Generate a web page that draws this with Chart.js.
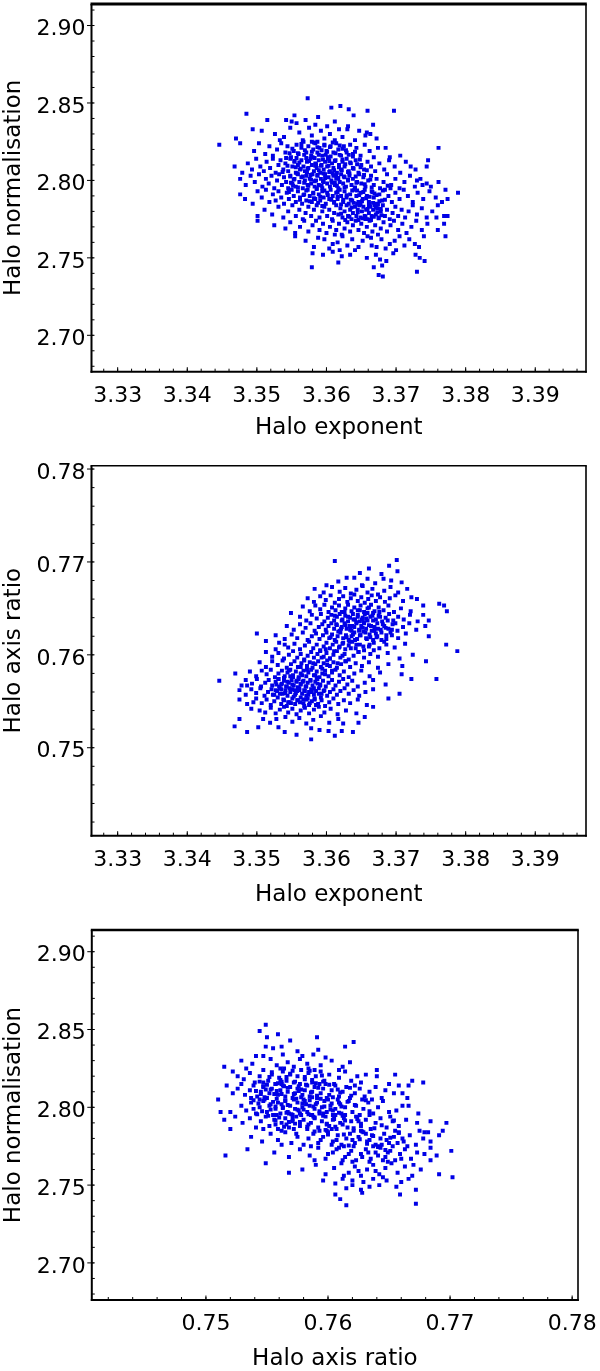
<!DOCTYPE html>
<html>
<head>
<meta charset="utf-8">
<script src="https://cdn.jsdelivr.net/npm/chart.js@4"></script>
<style>
  html, body { margin: 0; padding: 0; background: #fff; }
  body { width: 600px; height: 1371px; position: relative; overflow: hidden; }
  canvas { position: absolute; left: 0; }
</style>
</head>
<body>
<canvas id="c1" width="600" height="460" style="top:0px"></canvas>
<canvas id="c2" width="600" height="465" style="top:460px"></canvas>
<canvas id="c3" width="600" height="446" style="top:925px"></canvas>
<script>
/* tick labels */
const exponentTicks = [3.33, 3.34, 3.35, 3.36, 3.37, 3.38, 3.39];
const normTicks = [2.70, 2.75, 2.80, 2.85, 2.90];
const ratioTicks = [0.75, 0.76, 0.77, 0.78];

/* axis titles */
const exponentTitle = 'Halo exponent';
const normTitle = 'Halo normalisation';
const ratioTitle = 'Halo axis ratio';

/* panel 1: halo exponent vs halo normalisation */
const expNormPoints = [
[3.3573,2.853],[3.3607,2.847],[3.3620,2.848],[3.3659,2.845],[3.3697,2.845],[3.3632,2.846],
[3.3485,2.843],[3.3554,2.842],[3.3515,2.839],[3.3542,2.839],[3.3550,2.838],[3.3557,2.837],[3.3570,2.839],[3.3601,2.835],[3.3631,2.835],[3.3639,2.842],[3.3588,2.841],[3.3612,2.838],[3.3667,2.836],[3.3584,2.836],
[3.3494,2.833],[3.3507,2.832],[3.3470,2.827],[3.3658,2.831],[3.3663,2.830],[3.3656,2.829],[3.3618,2.833],[3.3630,2.833],[3.3526,2.830],[3.3539,2.828],[3.3548,2.834],[3.3561,2.831],[3.3566,2.826],[3.3579,2.829],[3.3592,2.832],[3.3597,2.827],[3.3605,2.830],[3.3623,2.828],[3.3641,2.826],[3.3647,2.832],[3.3533,2.826],[3.3575,2.834],[3.3587,2.825],[3.3612,2.826],[3.3672,2.827],
[3.3446,2.823],[3.3476,2.824],[3.3761,2.821],[3.3496,2.819],[3.3503,2.824],[3.3512,2.817],[3.3518,2.822],[3.3523,2.816],[3.3529,2.820],[3.3535,2.824],[3.3541,2.818],[3.3544,2.822],[3.3549,2.815],[3.3553,2.819],[3.3557,2.823],[3.3560,2.817],[3.3564,2.821],[3.3567,2.825],[3.3571,2.818],[3.3574,2.822],[3.3578,2.816],[3.3581,2.820],[3.3584,2.824],[3.3587,2.818],[3.3590,2.821],[3.3594,2.816],[3.3597,2.823],[3.3600,2.819],[3.3603,2.815],[3.3606,2.822],[3.3610,2.818],[3.3614,2.824],[3.3617,2.820],[3.3621,2.816],[3.3625,2.822],[3.3629,2.818],[3.3634,2.823],[3.3638,2.817],[3.3643,2.821],[3.3649,2.816],[3.3655,2.823],[3.3662,2.819],[3.3668,2.815],[3.3674,2.821],[3.3685,2.821],[3.3691,2.815],[3.3706,2.816],[3.3579,2.825],
[3.3468,2.809],[3.3479,2.805],[3.3746,2.813],[3.3744,2.809],[3.3721,2.809],[3.3487,2.811],[3.3493,2.807],[3.3499,2.814],[3.3505,2.809],[3.3510,2.806],[3.3514,2.812],[3.3519,2.808],[3.3523,2.814],[3.3527,2.805],[3.3531,2.810],[3.3534,2.813],[3.3538,2.807],[3.3541,2.811],[3.3545,2.806],[3.3548,2.814],[3.3551,2.809],[3.3554,2.812],[3.3556,2.805],[3.3559,2.810],[3.3562,2.807],[3.3564,2.813],[3.3567,2.809],[3.3569,2.806],[3.3572,2.812],[3.3574,2.808],[3.3577,2.814],[3.3579,2.810],[3.3582,2.806],[3.3584,2.811],[3.3586,2.808],[3.3589,2.813],[3.3591,2.805],[3.3593,2.810],[3.3596,2.807],[3.3598,2.812],[3.3601,2.809],[3.3603,2.814],[3.3605,2.806],[3.3608,2.811],[3.3610,2.808],[3.3613,2.813],[3.3615,2.805],[3.3618,2.810],[3.3621,2.807],[3.3623,2.812],[3.3626,2.809],[3.3629,2.814],[3.3632,2.806],[3.3635,2.811],[3.3638,2.808],[3.3642,2.813],[3.3646,2.805],[3.3650,2.810],[3.3654,2.807],[3.3659,2.812],[3.3664,2.809],[3.3670,2.806],[3.3676,2.811],[3.3683,2.807],[3.3690,2.813],[3.3698,2.809],[3.3706,2.805],[3.3714,2.812],[3.3728,2.807],[3.3580,2.815],
[3.3476,2.801],[3.3730,2.800],[3.3738,2.797],[3.3750,2.796],[3.3484,2.797],[3.3491,2.803],[3.3497,2.799],[3.3503,2.804],[3.3508,2.796],[3.3513,2.801],[3.3517,2.798],[3.3521,2.803],[3.3525,2.795],[3.3529,2.800],[3.3532,2.804],[3.3536,2.797],[3.3539,2.802],[3.3542,2.799],[3.3545,2.795],[3.3548,2.803],[3.3551,2.798],[3.3554,2.801],[3.3556,2.796],[3.3559,2.804],[3.3561,2.799],[3.3564,2.802],[3.3566,2.795],[3.3569,2.800],[3.3571,2.803],[3.3573,2.797],[3.3576,2.801],[3.3578,2.798],[3.3580,2.804],[3.3583,2.796],[3.3585,2.800],[3.3587,2.803],[3.3589,2.797],[3.3592,2.801],[3.3594,2.795],[3.3596,2.799],[3.3598,2.804],[3.3601,2.798],[3.3603,2.802],[3.3605,2.796],[3.3607,2.800],[3.3610,2.803],[3.3612,2.797],[3.3614,2.801],[3.3617,2.795],[3.3619,2.799],[3.3621,2.804],[3.3624,2.798],[3.3626,2.802],[3.3628,2.796],[3.3631,2.800],[3.3633,2.803],[3.3636,2.797],[3.3638,2.801],[3.3641,2.795],[3.3644,2.799],[3.3647,2.804],[3.3650,2.798],[3.3653,2.802],[3.3656,2.796],[3.3660,2.800],[3.3664,2.803],[3.3668,2.797],[3.3672,2.801],[3.3677,2.795],[3.3682,2.799],[3.3687,2.804],[3.3693,2.797],[3.3699,2.801],[3.3705,2.795],[3.3712,2.799],[3.3720,2.803],[3.3727,2.796],[3.3735,2.801],[3.3744,2.798],[3.3761,2.799],
[3.3483,2.788],[3.3476,2.791],[3.3494,2.785],[3.3789,2.792],[3.3771,2.794],[3.3774,2.788],[3.3501,2.793],[3.3507,2.789],[3.3513,2.794],[3.3518,2.786],[3.3523,2.791],[3.3527,2.787],[3.3531,2.793],[3.3535,2.789],[3.3539,2.785],[3.3543,2.792],[3.3546,2.788],[3.3550,2.794],[3.3553,2.790],[3.3556,2.786],[3.3559,2.793],[3.3562,2.789],[3.3565,2.785],[3.3568,2.791],[3.3571,2.787],[3.3573,2.794],[3.3576,2.790],[3.3579,2.786],[3.3581,2.792],[3.3584,2.788],[3.3586,2.795],[3.3589,2.791],[3.3591,2.787],[3.3594,2.793],[3.3596,2.789],[3.3599,2.785],[3.3601,2.792],[3.3604,2.788],[3.3606,2.794],[3.3609,2.790],[3.3611,2.786],[3.3614,2.792],[3.3616,2.788],[3.3619,2.794],[3.3621,2.790],[3.3624,2.786],[3.3626,2.793],[3.3629,2.789],[3.3632,2.785],[3.3634,2.791],[3.3637,2.787],[3.3640,2.794],[3.3643,2.790],[3.3646,2.786],[3.3649,2.792],[3.3652,2.788],[3.3655,2.794],[3.3658,2.790],[3.3661,2.786],[3.3665,2.793],[3.3668,2.789],[3.3672,2.785],[3.3676,2.791],[3.3680,2.787],[3.3684,2.794],[3.3689,2.790],[3.3694,2.786],[3.3699,2.792],[3.3705,2.788],[3.3711,2.794],[3.3717,2.790],[3.3724,2.786],[3.3731,2.792],[3.3739,2.788],[3.3748,2.793],[3.3757,2.789],[3.3766,2.786],[3.3692,2.795],
[3.3501,2.777],[3.3774,2.777],[3.3758,2.776],[3.3511,2.781],[3.3522,2.778],[3.3531,2.783],[3.3538,2.776],[3.3545,2.780],[3.3551,2.784],[3.3556,2.777],[3.3561,2.781],[3.3566,2.775],[3.3570,2.779],[3.3574,2.783],[3.3578,2.777],[3.3582,2.781],[3.3586,2.784],[3.3590,2.776],[3.3594,2.780],[3.3597,2.783],[3.3601,2.777],[3.3604,2.781],[3.3608,2.775],[3.3611,2.779],[3.3614,2.784],[3.3617,2.778],[3.3620,2.782],[3.3623,2.776],[3.3626,2.780],[3.3629,2.784],[3.3631,2.777],[3.3634,2.781],[3.3636,2.775],[3.3638,2.779],[3.3641,2.783],[3.3643,2.777],[3.3645,2.781],[3.3647,2.784],[3.3649,2.776],[3.3651,2.780],[3.3653,2.783],[3.3655,2.777],[3.3657,2.781],[3.3659,2.775],[3.3661,2.779],[3.3663,2.783],[3.3665,2.777],[3.3667,2.781],[3.3669,2.784],[3.3671,2.778],[3.3673,2.782],[3.3675,2.776],[3.3678,2.780],[3.3681,2.784],[3.3684,2.777],[3.3687,2.781],[3.3691,2.775],[3.3695,2.779],[3.3699,2.783],[3.3703,2.777],[3.3708,2.781],[3.3713,2.776],[3.3718,2.780],[3.3724,2.784],[3.3730,2.778],[3.3737,2.782],[3.3744,2.776],[3.3752,2.780],[3.3769,2.777],[3.3760,2.784],[3.3644,2.785],[3.3662,2.785],
[3.3501,2.774],[3.3541,2.769],[3.3555,2.766],[3.3771,2.764],[3.3769,2.772],[3.3525,2.771],[3.3548,2.773],[3.3562,2.770],[3.3568,2.774],[3.3574,2.767],[3.3580,2.771],[3.3585,2.774],[3.3590,2.768],[3.3595,2.772],[3.3600,2.766],[3.3605,2.770],[3.3609,2.774],[3.3614,2.768],[3.3618,2.772],[3.3622,2.765],[3.3626,2.769],[3.3630,2.773],[3.3634,2.767],[3.3638,2.771],[3.3642,2.774],[3.3646,2.768],[3.3650,2.772],[3.3654,2.766],[3.3658,2.770],[3.3662,2.774],[3.3666,2.767],[3.3670,2.771],[3.3674,2.765],[3.3678,2.769],[3.3682,2.773],[3.3687,2.767],[3.3692,2.771],[3.3697,2.774],[3.3703,2.768],[3.3709,2.772],[3.3715,2.766],[3.3722,2.770],[3.3729,2.774],[3.3737,2.768],[3.3745,2.772],[3.3740,2.764],[3.3727,2.759],[3.3760,2.768],[3.3612,2.765],[3.3656,2.775],
[3.3555,2.764],[3.3588,2.763],[3.3609,2.759],[3.3646,2.757],[3.3672,2.757],[3.3691,2.759],[3.3570,2.761],[3.3582,2.757],[3.3597,2.762],[3.3604,2.756],[3.3616,2.760],[3.3623,2.764],[3.3630,2.758],[3.3637,2.762],[3.3652,2.761],[3.3659,2.764],[3.3665,2.758],[3.3679,2.762],[3.3685,2.756],[3.3698,2.761],[3.3705,2.764],[3.3712,2.758],[3.3719,2.762],[3.3733,2.757],[3.3641,2.755],[3.3619,2.755],[3.3700,2.755],[3.3664,2.763],
[3.3617,2.747],[3.3595,2.752],[3.3580,2.753],[3.3634,2.752],[3.3741,2.748],[3.3728,2.752],[3.3734,2.750],[3.3658,2.750],[3.3677,2.749],[3.3686,2.748],[3.3696,2.753],[3.3671,2.752],[3.3622,2.751],[3.3609,2.754],
[3.3675,2.739],[3.3681,2.738],[3.3730,2.741],[3.3579,2.744],[3.3668,2.744],[3.3680,2.745]
];
/* panel 1: the crowded middle of the cloud */
const expNormCore = [
[3.3585,2.8105],[3.3612,2.7985],[3.3547,2.8175],[3.3633,2.8045],[3.3571,2.7935],[3.3659,2.7815],[3.3597,2.8225],[3.3624,2.7875],[3.3553,2.8005],[3.3668,2.7765],
[3.3589,2.8065],[3.3606,2.8155],[3.3641,2.7955],[3.3575,2.8125],[3.3662,2.7895],[3.3618,2.8085],[3.3537,2.8055],[3.3649,2.7845],[3.3593,2.7965],[3.3628,2.8195],
[3.3566,2.8025],[3.3681,2.7935],[3.3602,2.7905],[3.3557,2.8145],[3.3644,2.8105],[3.3673,2.7795],[3.3614,2.8035],[3.3579,2.8185],[3.3636,2.7825],[3.3598,2.8015],
[3.3562,2.7875],[3.3655,2.7975],[3.3609,2.8245],[3.3583,2.7995],[3.3621,2.7785],[3.3544,2.8095],[3.3667,2.7855],[3.3595,2.8135],[3.3631,2.8005],[3.3573,2.8075],
[3.3652,2.7755],[3.3616,2.7925],[3.3587,2.8215],[3.3639,2.8075],[3.3559,2.7955],[3.3676,2.7865],[3.3604,2.8055],[3.3568,2.8165],[3.3647,2.7905],[3.3623,2.8135],
[3.3581,2.7915],[3.3664,2.7745],[3.3608,2.7985],[3.3551,2.8205],[3.3635,2.7875],[3.3592,2.8095],[3.3671,2.7825],[3.3619,2.8165],[3.3577,2.8035],[3.3643,2.7985],
[3.3561,2.8115],[3.3657,2.7885],[3.3601,2.8185],[3.3626,2.7955],[3.3588,2.7855],[3.3612,2.8125],[3.3549,2.7985],[3.3679,2.7775],[3.3596,2.8045],[3.3638,2.8155],
[3.3574,2.7965],[3.3661,2.7835],[3.3617,2.8015],[3.3583,2.8145],[3.3645,2.7795],[3.3563,2.8075],[3.3629,2.7905],[3.3605,2.8215],[3.3654,2.8035],[3.3591,2.7895],
[3.3669,2.7915],[3.3554,2.8125],[3.3622,2.8065],[3.3586,2.7945],[3.3648,2.8135],[3.3569,2.8195],[3.3633,2.7765],[3.3611,2.7855],[3.3578,2.8005],[3.3665,2.7955],
[3.3599,2.8165],[3.3542,2.8145],[3.3627,2.8105],[3.3594,2.7835],[3.3674,2.7845],[3.3615,2.7965],[3.3558,2.8045],[3.3641,2.8185],[3.3582,2.8245],[3.3656,2.7765],
[3.3603,2.8095],[3.3567,2.7905],[3.3637,2.7935],[3.3589,2.8165],[3.3684,2.7875],[3.3613,2.8175],[3.3572,2.8055],[3.3651,2.7865],[3.3625,2.8025],[3.3546,2.7925],
[3.3663,2.8005],[3.3607,2.7875],[3.3584,2.8095],[3.3646,2.7745],[3.3619,2.8225],[3.3556,2.8085],[3.3634,2.8115],[3.3597,2.7935],[3.3672,2.7905],[3.3609,2.8045],
[3.3576,2.7865],[3.3658,2.8065],[3.3621,2.7845],[3.3564,2.8235],[3.3642,2.8025],[3.3593,2.8195],[3.3678,2.7815],[3.3616,2.7895],[3.3552,2.7965],[3.3632,2.8165],
[3.3587,2.8035],[3.3666,2.7925],[3.3604,2.8125],[3.3571,2.8145],[3.3649,2.8085],[3.3627,2.7745],[3.3595,2.7995],[3.3688,2.7965],[3.3611,2.8065],[3.3559,2.8175],
[3.3639,2.7855],[3.3582,2.7885],[3.3653,2.7925],[3.3623,2.8205],[3.3548,2.8025],[3.3675,2.7755],[3.3602,2.8145],[3.3631,2.8055],[3.3568,2.7985],[3.3644,2.7935]
];

/* panel 2: halo exponent vs halo axis ratio */
const expRatioPoints = [
[3.3612,0.7701],[3.3701,0.7702],[3.3690,0.7696],
[3.3661,0.7693],[3.3702,0.7690],[3.3648,0.7688],[3.3679,0.7687],
[3.3682,0.7682],[3.3640,0.7683],[3.3629,0.7683],[3.3659,0.7682],[3.3708,0.7678],[3.3600,0.7675],[3.3651,0.7675],[3.3617,0.7679],[3.3693,0.7680],[3.3670,0.7677],
[3.3583,0.7671],[3.3596,0.7667],[3.3608,0.7673],[3.3619,0.7668],[3.3627,0.7672],[3.3635,0.7666],[3.3643,0.7670],[3.3652,0.7674],[3.3659,0.7667],[3.3666,0.7671],[3.3674,0.7665],[3.3683,0.7669],[3.3692,0.7673],[3.3703,0.7667],[3.3716,0.7671],[3.3730,0.7660],
[3.3573,0.7661],[3.3582,0.7657],[3.3591,0.7663],[3.3599,0.7659],[3.3606,0.7664],[3.3612,0.7656],[3.3618,0.7660],[3.3624,0.7663],[3.3630,0.7657],[3.3635,0.7661],[3.3640,0.7665],[3.3645,0.7658],[3.3650,0.7662],[3.3655,0.7656],[3.3660,0.7660],[3.3665,0.7664],[3.3671,0.7658],[3.3677,0.7662],[3.3684,0.7657],[3.3691,0.7661],[3.3699,0.7664],[3.3710,0.7658],[3.3722,0.7662],[3.3739,0.7653],
[3.3549,0.7645],[3.3762,0.7655],[3.3769,0.7653],[3.3773,0.7647],[3.3566,0.7652],[3.3576,0.7647],[3.3584,0.7653],[3.3591,0.7649],[3.3597,0.7654],[3.3603,0.7646],[3.3608,0.7651],[3.3613,0.7648],[3.3618,0.7653],[3.3622,0.7646],[3.3627,0.7650],[3.3631,0.7654],[3.3636,0.7647],[3.3640,0.7651],[3.3645,0.7648],[3.3649,0.7653],[3.3654,0.7646],[3.3659,0.7650],[3.3664,0.7654],[3.3669,0.7647],[3.3675,0.7651],[3.3682,0.7648],[3.3689,0.7653],[3.3697,0.7646],[3.3707,0.7650],[3.3721,0.7647],
[3.3562,0.7641],[3.3571,0.7637],[3.3579,0.7643],[3.3586,0.7639],[3.3592,0.7644],[3.3597,0.7636],[3.3602,0.7640],[3.3607,0.7643],[3.3611,0.7637],[3.3615,0.7641],[3.3619,0.7644],[3.3623,0.7638],[3.3627,0.7642],[3.3631,0.7636],[3.3634,0.7640],[3.3638,0.7644],[3.3641,0.7638],[3.3645,0.7641],[3.3648,0.7636],[3.3652,0.7640],[3.3655,0.7644],[3.3659,0.7637],[3.3663,0.7641],[3.3667,0.7645],[3.3671,0.7638],[3.3675,0.7642],[3.3680,0.7636],[3.3685,0.7640],[3.3690,0.7644],[3.3696,0.7637],[3.3703,0.7641],[3.3711,0.7638],[3.3720,0.7643],[3.3731,0.7636],[3.3747,0.7637],[3.3739,0.7643],
[3.3543,0.7631],[3.3553,0.7627],[3.3562,0.7633],[3.3570,0.7629],[3.3577,0.7634],[3.3583,0.7626],[3.3589,0.7630],[3.3594,0.7633],[3.3599,0.7627],[3.3603,0.7631],[3.3607,0.7634],[3.3611,0.7628],[3.3615,0.7632],[3.3619,0.7626],[3.3622,0.7630],[3.3626,0.7634],[3.3629,0.7628],[3.3633,0.7631],[3.3636,0.7626],[3.3640,0.7630],[3.3643,0.7634],[3.3647,0.7627],[3.3650,0.7631],[3.3654,0.7635],[3.3657,0.7628],[3.3661,0.7632],[3.3665,0.7626],[3.3669,0.7630],[3.3673,0.7634],[3.3678,0.7627],[3.3683,0.7631],[3.3689,0.7628],[3.3695,0.7633],[3.3702,0.7626],[3.3710,0.7630],[3.3719,0.7634],[3.3729,0.7627],[3.3742,0.7631],
[3.3500,0.7623],[3.3513,0.7615],[3.3527,0.7621],[3.3540,0.7617],[3.3550,0.7622],[3.3558,0.7618],[3.3566,0.7624],[3.3573,0.7616],[3.3579,0.7620],[3.3585,0.7623],[3.3590,0.7617],[3.3595,0.7621],[3.3600,0.7624],[3.3604,0.7618],[3.3608,0.7622],[3.3612,0.7616],[3.3616,0.7620],[3.3620,0.7624],[3.3624,0.7618],[3.3628,0.7621],[3.3632,0.7616],[3.3636,0.7620],[3.3640,0.7624],[3.3644,0.7617],[3.3648,0.7621],[3.3653,0.7625],[3.3657,0.7618],[3.3662,0.7622],[3.3667,0.7616],[3.3673,0.7620],[3.3679,0.7624],[3.3686,0.7617],[3.3694,0.7621],[3.3703,0.7618],[3.3714,0.7623],[3.3747,0.7620],
[3.3540,0.7611],[3.3527,0.7606],[3.3772,0.7611],[3.3788,0.7604],[3.3532,0.7613],[3.3545,0.7608],[3.3554,0.7612],[3.3562,0.7606],[3.3569,0.7610],[3.3575,0.7614],[3.3581,0.7607],[3.3586,0.7611],[3.3591,0.7605],[3.3596,0.7609],[3.3600,0.7613],[3.3605,0.7607],[3.3609,0.7611],[3.3614,0.7614],[3.3618,0.7608],[3.3623,0.7612],[3.3627,0.7606],[3.3632,0.7610],[3.3637,0.7614],[3.3642,0.7607],[3.3648,0.7611],[3.3654,0.7605],[3.3661,0.7609],[3.3668,0.7613],[3.3676,0.7607],[3.3686,0.7611],[3.3698,0.7608],[3.3713,0.7612],
[3.3513,0.7603],[3.3522,0.7598],[3.3531,0.7602],[3.3539,0.7596],[3.3546,0.7600],[3.3552,0.7604],[3.3558,0.7597],[3.3563,0.7601],[3.3568,0.7595],[3.3573,0.7599],[3.3578,0.7603],[3.3582,0.7597],[3.3587,0.7601],[3.3591,0.7604],[3.3596,0.7598],[3.3600,0.7602],[3.3605,0.7596],[3.3610,0.7600],[3.3615,0.7604],[3.3620,0.7597],[3.3626,0.7601],[3.3632,0.7595],[3.3639,0.7599],[3.3646,0.7603],[3.3654,0.7597],[3.3663,0.7601],[3.3674,0.7598],[3.3688,0.7602],[3.3705,0.7596],[3.3724,0.7600],
[3.3743,0.7593],[3.3504,0.7592],[3.3513,0.7587],[3.3522,0.7593],[3.3530,0.7589],[3.3537,0.7594],[3.3543,0.7586],[3.3549,0.7590],[3.3554,0.7593],[3.3559,0.7587],[3.3564,0.7591],[3.3568,0.7594],[3.3572,0.7588],[3.3576,0.7592],[3.3580,0.7586],[3.3584,0.7590],[3.3588,0.7593],[3.3592,0.7587],[3.3596,0.7591],[3.3601,0.7594],[3.3605,0.7588],[3.3610,0.7592],[3.3615,0.7586],[3.3621,0.7590],[3.3627,0.7593],[3.3634,0.7587],[3.3642,0.7591],[3.3651,0.7588],[3.3661,0.7592],[3.3674,0.7586],[3.3689,0.7590],[3.3709,0.7588],
[3.3722,0.7574],[3.3758,0.7574],[3.3469,0.7580],[3.3490,0.7582],[3.3499,0.7577],[3.3507,0.7583],[3.3514,0.7579],[3.3520,0.7584],[3.3526,0.7576],[3.3531,0.7580],[3.3536,0.7583],[3.3540,0.7577],[3.3544,0.7581],[3.3548,0.7584],[3.3552,0.7578],[3.3556,0.7582],[3.3560,0.7576],[3.3563,0.7580],[3.3567,0.7583],[3.3571,0.7577],[3.3574,0.7581],[3.3578,0.7584],[3.3582,0.7578],[3.3586,0.7582],[3.3590,0.7576],[3.3594,0.7580],[3.3598,0.7583],[3.3603,0.7577],[3.3608,0.7581],[3.3613,0.7584],[3.3619,0.7578],[3.3625,0.7582],[3.3632,0.7576],[3.3640,0.7580],[3.3650,0.7583],[3.3662,0.7577],[3.3677,0.7581],[3.3708,0.7579],
[3.3446,0.7572],[3.3478,0.7567],[3.3486,0.7567],[3.3484,0.7573],[3.3493,0.7569],[3.3500,0.7574],[3.3506,0.7566],[3.3512,0.7570],[3.3517,0.7573],[3.3522,0.7567],[3.3527,0.7571],[3.3531,0.7574],[3.3535,0.7568],[3.3539,0.7572],[3.3543,0.7566],[3.3546,0.7570],[3.3550,0.7573],[3.3553,0.7567],[3.3557,0.7571],[3.3560,0.7574],[3.3563,0.7568],[3.3567,0.7572],[3.3570,0.7566],[3.3573,0.7570],[3.3577,0.7573],[3.3580,0.7567],[3.3584,0.7571],[3.3587,0.7574],[3.3591,0.7568],[3.3595,0.7572],[3.3599,0.7566],[3.3603,0.7570],[3.3608,0.7573],[3.3613,0.7567],[3.3618,0.7571],[3.3624,0.7574],[3.3630,0.7568],[3.3637,0.7572],[3.3645,0.7566],[3.3655,0.7570],[3.3667,0.7573],[3.3685,0.7568],
[3.3475,0.7562],[3.3484,0.7557],[3.3492,0.7563],[3.3499,0.7559],[3.3505,0.7564],[3.3511,0.7556],[3.3516,0.7560],[3.3521,0.7563],[3.3525,0.7557],[3.3529,0.7561],[3.3533,0.7564],[3.3537,0.7558],[3.3541,0.7562],[3.3544,0.7556],[3.3548,0.7560],[3.3551,0.7563],[3.3555,0.7557],[3.3558,0.7561],[3.3561,0.7564],[3.3565,0.7558],[3.3568,0.7562],[3.3571,0.7556],[3.3575,0.7560],[3.3578,0.7563],[3.3582,0.7557],[3.3585,0.7561],[3.3589,0.7564],[3.3593,0.7558],[3.3597,0.7562],[3.3601,0.7556],[3.3605,0.7560],[3.3610,0.7563],[3.3615,0.7557],[3.3620,0.7561],[3.3626,0.7564],[3.3632,0.7558],[3.3639,0.7562],[3.3647,0.7556],[3.3656,0.7560],[3.3667,0.7563],[3.3689,0.7553],[3.3705,0.7558],
[3.3475,0.7552],[3.3495,0.7549],[3.3504,0.7540],[3.3667,0.7544],[3.3486,0.7547],[3.3499,0.7553],[3.3507,0.7548],[3.3514,0.7552],[3.3520,0.7546],[3.3525,0.7550],[3.3530,0.7554],[3.3535,0.7547],[3.3539,0.7551],[3.3543,0.7545],[3.3547,0.7549],[3.3551,0.7553],[3.3555,0.7547],[3.3559,0.7551],[3.3563,0.7554],[3.3567,0.7548],[3.3571,0.7552],[3.3575,0.7546],[3.3579,0.7550],[3.3583,0.7553],[3.3588,0.7547],[3.3593,0.7551],[3.3598,0.7545],[3.3604,0.7549],[3.3610,0.7553],[3.3617,0.7547],[3.3625,0.7551],[3.3634,0.7548],[3.3645,0.7552],[3.3658,0.7546],
[3.3509,0.7531],[3.3475,0.7531],[3.3528,0.7531],[3.3492,0.7542],[3.3512,0.7538],[3.3520,0.7543],[3.3527,0.7537],[3.3533,0.7541],[3.3539,0.7544],[3.3545,0.7538],[3.3551,0.7542],[3.3557,0.7536],[3.3563,0.7540],[3.3569,0.7543],[3.3575,0.7537],[3.3582,0.7541],[3.3589,0.7544],[3.3597,0.7538],[3.3606,0.7542],[3.3616,0.7536],[3.3628,0.7540],[3.3643,0.7537],
[3.3655,0.7533],[3.3468,0.7523],[3.3502,0.7522],[3.3519,0.7527],[3.3531,0.7522],[3.3540,0.7517],[3.3541,0.7533],[3.3551,0.7528],[3.3561,0.7532],[3.3571,0.7526],[3.3581,0.7530],[3.3592,0.7534],[3.3604,0.7527],[3.3617,0.7531],
[3.3486,0.7517],[3.3603,0.7518],[3.3622,0.7518],[3.3638,0.7517],[3.3646,0.7527],[3.3624,0.7526],[3.3578,0.7521],[3.3590,0.7519],
[3.3578,0.7509],[3.3612,0.7513],[3.3557,0.7514]
];
/* panel 2: the two crowded lumps */
const expRatioCore = [
[3.3559,0.7565],[3.3652,0.7629],[3.3541,0.7559],[3.3667,0.7637],[3.3573,0.7553],[3.3638,0.7622],[3.3528,0.7568],[3.3681,0.7633],[3.3586,0.7575],[3.3624,0.7613],
[3.3549,0.7548],[3.3659,0.7645],[3.3566,0.7571],[3.3643,0.7635],[3.3535,0.7563],[3.3672,0.7619],[3.3579,0.7560],[3.3631,0.7641],[3.3552,0.7576],[3.3694,0.7627],
[3.3591,0.7567],[3.3617,0.7625],[3.3544,0.7571],[3.3662,0.7611],[3.3568,0.7545],[3.3648,0.7648],[3.3523,0.7557],[3.3677,0.7641],[3.3583,0.7552],[3.3627,0.7632],
[3.3556,0.7559],[3.3656,0.7624],[3.3598,0.7579],[3.3611,0.7604],[3.3538,0.7552],[3.3686,0.7621],[3.3571,0.7566],[3.3641,0.7616],[3.3547,0.7564],[3.3664,0.7631],
[3.3589,0.7558],[3.3634,0.7627],[3.3562,0.7549],[3.3651,0.7638],[3.3531,0.7574],[3.3669,0.7626],[3.3577,0.7572],[3.3622,0.7637],[3.3553,0.7555],[3.3699,0.7634],
[3.3594,0.7585],[3.3606,0.7619],[3.3542,0.7566],[3.3658,0.7617],[3.3565,0.7578],[3.3645,0.7643],[3.3527,0.7562],[3.3674,0.7628],[3.3582,0.7564],[3.3629,0.7619],
[3.3558,0.7551],[3.3661,0.7651],[3.3601,0.7589],[3.3614,0.7633],[3.3548,0.7577],[3.3683,0.7614],[3.3574,0.7557],[3.3637,0.7631],[3.3536,0.7569],[3.3666,0.7642],
[3.3587,0.7569],[3.3619,0.7609],[3.3561,0.7562],[3.3654,0.7634],[3.3596,0.7561],[3.3643,0.7611],[3.3545,0.7549],[3.3688,0.7637],[3.3569,0.7561],[3.3626,0.7646],
[3.3551,0.7568],[3.3671,0.7623],[3.3584,0.7578],[3.3633,0.7614],[3.3539,0.7575],[3.3657,0.7639],[3.3576,0.7548],[3.3647,0.7626],[3.3605,0.7596],[3.3612,0.7642],
[3.3557,0.7572],[3.3679,0.7616],[3.3592,0.7554],[3.3639,0.7638],[3.3532,0.7566],[3.3663,0.7619],[3.3567,0.7552],[3.3621,0.7628],[3.3554,0.7562],[3.3692,0.7624],
[3.3608,0.7583],[3.3616,0.7591],[3.3599,0.7606],[3.3623,0.7599],[3.3581,0.7591],[3.3635,0.7607],[3.3572,0.7584],[3.3646,0.7603],[3.3563,0.7587],[3.3653,0.7609],
[3.3593,0.7597],[3.3628,0.7593],[3.3546,0.7583],[3.3668,0.7605],[3.3585,0.7546],[3.3676,0.7646],[3.3563,0.7569],[3.3649,0.7621],[3.3533,0.7558],[3.3685,0.7629]
];

/* panel 3: halo axis ratio vs halo normalisation */
const ratioNormPoints = [
[0.7549,2.853],[0.7544,2.849],[0.7550,2.845],
[0.7559,2.847],[0.7569,2.843],[0.7562,2.839],[0.7555,2.838],[0.7549,2.839],[0.7591,2.845],[0.7621,2.842],[0.7614,2.839],[0.7592,2.837],[0.7575,2.836],
[0.7547,2.833],[0.7541,2.833],[0.7579,2.833],[0.7598,2.832],[0.7618,2.829],[0.7612,2.826],[0.7515,2.826],[0.7533,2.825],[0.7529,2.830],[0.7538,2.828],[0.7553,2.831],[0.7558,2.827],[0.7563,2.834],[0.7567,2.829],[0.7572,2.826],[0.7577,2.831],[0.7583,2.828],[0.7588,2.834],[0.7594,2.827],[0.7603,2.830],[0.7584,2.825],[0.7561,2.825],
[0.7522,2.823],[0.7526,2.820],[0.7640,2.824],[0.7655,2.821],[0.7640,2.820],[0.7631,2.821],[0.7669,2.817],[0.7678,2.816],[0.7666,2.814],[0.7650,2.815],[0.7531,2.818],[0.7536,2.822],[0.7540,2.816],[0.7544,2.820],[0.7547,2.824],[0.7551,2.817],[0.7554,2.821],[0.7557,2.815],[0.7560,2.819],[0.7563,2.823],[0.7566,2.817],[0.7569,2.821],[0.7572,2.816],[0.7575,2.820],[0.7578,2.824],[0.7581,2.818],[0.7584,2.822],[0.7587,2.816],[0.7590,2.820],[0.7594,2.823],[0.7597,2.817],[0.7601,2.821],[0.7605,2.815],[0.7609,2.819],[0.7614,2.823],[0.7619,2.817],[0.7624,2.820],[0.7609,2.824],[0.7564,2.825],[0.7547,2.816],[0.7589,2.824],[0.7627,2.816],
[0.7517,2.814],[0.7529,2.815],[0.7510,2.805],[0.7522,2.809],[0.7647,2.811],[0.7644,2.806],[0.7654,2.809],[0.7661,2.809],[0.7665,2.806],[0.7526,2.812],[0.7532,2.808],[0.7536,2.811],[0.7539,2.814],[0.7542,2.807],[0.7545,2.810],[0.7547,2.813],[0.7550,2.806],[0.7552,2.809],[0.7554,2.812],[0.7557,2.815],[0.7559,2.808],[0.7561,2.811],[0.7563,2.814],[0.7565,2.807],[0.7567,2.810],[0.7569,2.813],[0.7571,2.806],[0.7573,2.809],[0.7575,2.812],[0.7577,2.815],[0.7579,2.808],[0.7581,2.811],[0.7583,2.814],[0.7585,2.807],[0.7587,2.810],[0.7589,2.813],[0.7591,2.806],[0.7594,2.809],[0.7596,2.812],[0.7598,2.815],[0.7601,2.808],[0.7603,2.811],[0.7606,2.814],[0.7609,2.807],[0.7612,2.810],[0.7615,2.813],[0.7618,2.806],[0.7622,2.809],[0.7626,2.812],[0.7630,2.807],[0.7634,2.810],[0.7639,2.813],[0.7658,2.814],[0.7548,2.805],[0.7562,2.815],[0.7580,2.805],[0.7593,2.815],[0.7608,2.805],[0.7622,2.814],[0.7636,2.805],[0.7537,2.806],[0.7599,2.806],
[0.7512,2.797],[0.7520,2.797],[0.7661,2.801],[0.7656,2.798],[0.7674,2.796],[0.7529,2.801],[0.7533,2.798],[0.7537,2.803],[0.7541,2.796],[0.7544,2.800],[0.7547,2.804],[0.7550,2.797],[0.7552,2.801],[0.7555,2.795],[0.7557,2.799],[0.7559,2.803],[0.7561,2.796],[0.7563,2.800],[0.7565,2.804],[0.7567,2.797],[0.7569,2.801],[0.7571,2.795],[0.7573,2.799],[0.7575,2.803],[0.7577,2.796],[0.7579,2.800],[0.7581,2.804],[0.7583,2.797],[0.7585,2.801],[0.7587,2.795],[0.7589,2.799],[0.7591,2.803],[0.7593,2.796],[0.7595,2.800],[0.7597,2.804],[0.7599,2.797],[0.7602,2.801],[0.7604,2.795],[0.7606,2.799],[0.7609,2.803],[0.7611,2.796],[0.7614,2.800],[0.7617,2.804],[0.7620,2.797],[0.7623,2.801],[0.7626,2.795],[0.7629,2.799],[0.7633,2.803],[0.7637,2.796],[0.7641,2.800],[0.7645,2.804],[0.7650,2.797],[0.7666,2.801],[0.7544,2.805],[0.7558,2.795],[0.7572,2.805],[0.7586,2.795],[0.7600,2.805],[0.7614,2.795],[0.7628,2.805],[0.7562,2.802],[0.7576,2.798],[0.7590,2.802],[0.7604,2.798],[0.7539,2.799],[0.7553,2.802],[0.7568,2.796],[0.7582,2.802],[0.7596,2.796],[0.7610,2.802],
[0.7515,2.792],[0.7524,2.794],[0.7520,2.786],[0.7684,2.791],[0.7697,2.790],[0.7694,2.785],[0.7673,2.790],[0.7682,2.784],[0.7675,2.785],[0.7530,2.790],[0.7536,2.793],[0.7541,2.787],[0.7545,2.791],[0.7549,2.794],[0.7552,2.788],[0.7556,2.792],[0.7559,2.786],[0.7562,2.790],[0.7565,2.793],[0.7568,2.787],[0.7571,2.791],[0.7574,2.794],[0.7577,2.788],[0.7580,2.792],[0.7583,2.786],[0.7586,2.790],[0.7589,2.793],[0.7592,2.787],[0.7595,2.791],[0.7598,2.794],[0.7601,2.788],[0.7604,2.792],[0.7607,2.786],[0.7610,2.790],[0.7613,2.793],[0.7616,2.787],[0.7619,2.791],[0.7623,2.794],[0.7627,2.788],[0.7631,2.792],[0.7635,2.786],[0.7639,2.790],[0.7643,2.793],[0.7648,2.787],[0.7653,2.791],[0.7658,2.788],[0.7664,2.792],[0.7578,2.795],[0.7593,2.785],[0.7606,2.795],[0.7621,2.785],[0.7562,2.785],[0.7547,2.786],[0.7634,2.795],[0.7566,2.789],[0.7584,2.789],[0.7599,2.789],[0.7612,2.789],[0.7625,2.791],[0.7557,2.789],[0.7572,2.786],[0.7588,2.794],[0.7603,2.786],[0.7651,2.794],
[0.7537,2.781],[0.7546,2.778],[0.7553,2.783],[0.7559,2.779],[0.7565,2.784],[0.7570,2.777],[0.7575,2.781],[0.7580,2.776],[0.7584,2.780],[0.7588,2.783],[0.7592,2.777],[0.7596,2.781],[0.7600,2.784],[0.7604,2.778],[0.7608,2.782],[0.7611,2.776],[0.7615,2.780],[0.7618,2.783],[0.7622,2.777],[0.7625,2.781],[0.7629,2.784],[0.7632,2.778],[0.7636,2.782],[0.7639,2.776],[0.7643,2.780],[0.7646,2.783],[0.7650,2.777],[0.7654,2.781],[0.7658,2.784],[0.7662,2.778],[0.7667,2.782],[0.7672,2.776],[0.7678,2.780],[0.7684,2.778],[0.7691,2.782],[0.7599,2.785],[0.7613,2.775],[0.7627,2.785],[0.7641,2.775],[0.7655,2.785],[0.7586,2.775],[0.7562,2.776],[0.7607,2.779],[0.7620,2.779],[0.7634,2.779],[0.7648,2.779],[0.7661,2.780],[0.7594,2.779],[0.7574,2.783],[0.7631,2.783],[0.7644,2.776],[0.7657,2.777],[0.7679,2.784],[0.7603,2.776],
[0.7516,2.769],[0.7534,2.773],[0.7701,2.772],[0.7679,2.770],[0.7684,2.774],[0.7556,2.771],[0.7568,2.768],[0.7577,2.773],[0.7585,2.769],[0.7592,2.774],[0.7598,2.767],[0.7604,2.771],[0.7609,2.774],[0.7614,2.768],[0.7619,2.772],[0.7623,2.766],[0.7627,2.770],[0.7631,2.773],[0.7635,2.767],[0.7639,2.771],[0.7643,2.774],[0.7647,2.768],[0.7651,2.772],[0.7655,2.766],[0.7659,2.770],[0.7663,2.773],[0.7668,2.767],[0.7673,2.771],[0.7689,2.769],[0.7621,2.775],[0.7637,2.775],[0.7653,2.775],[0.7612,2.766],[0.7645,2.766],[0.7628,2.768],[0.7641,2.769],[0.7617,2.770],[0.7633,2.771],[0.7660,2.767],[0.7600,2.770],[0.7589,2.766],[0.7665,2.775],[0.7649,2.771],[0.7607,2.773],
[0.7549,2.764],[0.7568,2.758],[0.7579,2.760],[0.7670,2.763],[0.7684,2.766],[0.7691,2.757],[0.7702,2.755],[0.7645,2.755],[0.7590,2.763],[0.7598,2.757],[0.7605,2.761],[0.7611,2.764],[0.7617,2.758],[0.7622,2.762],[0.7627,2.756],[0.7632,2.760],[0.7637,2.763],[0.7642,2.757],[0.7647,2.761],[0.7652,2.764],[0.7657,2.758],[0.7663,2.762],[0.7669,2.756],[0.7676,2.760],[0.7634,2.765],[0.7620,2.765],[0.7649,2.765],[0.7613,2.756],[0.7639,2.759],[0.7625,2.759],
[0.7596,2.753],[0.7620,2.753],[0.7629,2.752],[0.7620,2.750],[0.7634,2.749],[0.7642,2.750],[0.7656,2.749],[0.7672,2.747],[0.7606,2.751],[0.7612,2.754],[0.7648,2.753],[0.7660,2.752],[0.7637,2.754],[0.7627,2.747],[0.7666,2.754],[0.7615,2.748],
[0.7606,2.744],[0.7610,2.741],[0.7615,2.737],[0.7628,2.745],[0.7659,2.744],[0.7672,2.738]
];
/* panel 3: the crowded upper-left lump and its tail */
const ratioNormCore = [
[0.7565,2.8045],[0.7578,2.8115],[0.7553,2.7985],[0.7591,2.8075],[0.7547,2.8135],[0.7584,2.7955],[0.7561,2.8175],[0.7603,2.8025],[0.7571,2.7925],[0.7556,2.8085],
[0.7596,2.8165],[0.7543,2.8025],[0.7588,2.8005],[0.7567,2.8125],[0.7612,2.7945],[0.7551,2.7945],[0.7581,2.8195],[0.7574,2.8055],[0.7599,2.7895],[0.7559,2.8155],
[0.7621,2.7865],[0.7563,2.7995],[0.7586,2.8095],[0.7548,2.8065],[0.7608,2.8115],[0.7569,2.8215],[0.7593,2.7975],[0.7541,2.8105],[0.7577,2.7905],[0.7616,2.8035],
[0.7555,2.8035],[0.7582,2.8145],[0.7628,2.7845],[0.7566,2.7965],[0.7594,2.8055],[0.7552,2.8195],[0.7605,2.7925],[0.7572,2.8085],[0.7637,2.7815],[0.7546,2.7975],
[0.7587,2.8175],[0.7611,2.8005],[0.7564,2.8135],[0.7598,2.7855],[0.7575,2.7985],[0.7644,2.7885],[0.7558,2.8105],[0.7589,2.7935],[0.7619,2.8075],[0.7544,2.8165],
[0.7579,2.8025],[0.7632,2.7765],[0.7568,2.7905],[0.7601,2.8145],[0.7554,2.8225],[0.7585,2.8045],[0.7624,2.7925],[0.7562,2.8085],[0.7597,2.8005],[0.7651,2.7805],
[0.7573,2.8165],[0.7539,2.8045],[0.7609,2.7965],[0.7583,2.7875],[0.7613,2.7825],[0.7557,2.8005],[0.7592,2.8125],[0.7641,2.7745],[0.7570,2.7955],[0.7604,2.8065],
[0.7549,2.8115],[0.7627,2.7895],[0.7576,2.8135],[0.7617,2.7755],[0.7560,2.7935],[0.7595,2.8205],[0.7634,2.7975],[0.7545,2.8085],[0.7580,2.7985],[0.7658,2.7835],
[0.7566,2.8195],[0.7606,2.7875],[0.7587,2.8065],[0.7550,2.8145],[0.7622,2.8015],[0.7573,2.7895],[0.7647,2.7725],[0.7590,2.8155],[0.7558,2.8055],[0.7614,2.7915],
[0.7567,2.8015],[0.7600,2.7825],[0.7638,2.7865],[0.7553,2.8115],[0.7585,2.8235],[0.7610,2.8095],[0.7564,2.7875],[0.7626,2.7795],[0.7576,2.8105],[0.7542,2.7955],
[0.7596,2.7945],[0.7654,2.7915],[0.7571,2.8235],[0.7618,2.8125],[0.7557,2.7915],[0.7589,2.7845],[0.7631,2.8045],[0.7562,2.8165],[0.7602,2.7985],[0.7578,2.8065]
];

const FONT = '"DejaVu Sans", sans-serif';
const BLUE = 'rgb(0,0,230)';

/* tick marks and the box round the plot */
const framePlugin = {
  id: 'frame',
  afterDatasetsDraw(chart, args, o) {
    const { ctx, chartArea: a, scales: { x, y } } = chart;
    ctx.save();
    ctx.strokeStyle = '#000';
    ctx.lineWidth = 1;
    ctx.beginPath();
    const each = (scale, step, fn) => {
      for (let k = Math.ceil(scale.min / step - 1e-6); k * step <= scale.max + 1e-9; k++) {
        fn(scale.getPixelForValue(k * step));
      }
    };
    each(x, o.xMinor, px => { ctx.moveTo(px, a.bottom); ctx.lineTo(px, a.bottom - 3); });
    each(y, o.yMinor, py => { ctx.moveTo(a.left, py); ctx.lineTo(a.left + 3, py); });
    x.ticks.forEach(t => {
      const px = x.getPixelForValue(t.value);
      ctx.moveTo(px, a.bottom); ctx.lineTo(px, a.bottom - 4.5);
    });
    y.ticks.forEach(t => {
      const py = y.getPixelForValue(t.value);
      ctx.moveTo(a.left - 4.5, py); ctx.lineTo(a.left + 2, py);
    });
    ctx.stroke();

    const line = (w, x1, y1, x2, y2) => {
      ctx.lineWidth = w;
      ctx.beginPath(); ctx.moveTo(x1, y1); ctx.lineTo(x2, y2); ctx.stroke();
    };
    line(o.topWidth, a.left - 1, a.top, a.right + 0.8, a.top);
    line(1.6, a.right, a.top, a.right, a.bottom + 1);
    line(2, a.left, a.top, a.left, a.bottom + 1);
    line(2, a.left - 1, a.bottom, a.right + 0.8, a.bottom);
    ctx.restore();
  }
};

function axis(dir, spec) {
  return {
    type: 'linear',
    min: spec.range[0],
    max: spec.range[1],
    afterBuildTicks: s => { s.ticks = spec.ticks.map(v => ({ value: v })); },
    afterFit: s => {
      if (dir === 'x') { s.height = spec.size; s.paddingLeft = 0; s.paddingRight = 0; }
      else { s.width = spec.size; s.paddingTop = 0; s.paddingBottom = 0; }
    },
    grid: { display: false, drawTicks: false },
    border: { display: false },
    ticks: {
      color: '#000',
      font: { family: FONT, size: 22, lineHeight: 1.2 },
      padding: dir === 'x' ? 11.5 : 6,
      labelOffset: dir === 'x' ? 0 : 4,
      maxRotation: 0,
      autoSkip: false,
      callback: v => Number(v).toFixed(2)
    },
    title: {
      display: true,
      text: spec.title,
      color: '#000',
      font: { family: FONT, size: 23, lineHeight: 1 },
      padding: dir === 'x' ? { top: 0, bottom: spec.titlePad } : { top: 2.4, bottom: 0 }
    }
  };
}

function makePanel(id, points, cfg) {
  return new Chart(document.getElementById(id), {
    type: 'scatter',
    data: {
      datasets: [{
        data: points.map(p => ({ x: p[0], y: p[1] })),
        showLine: false,
        pointStyle: 'rect',
        pointRadius: 2.8,
        pointBorderWidth: 0,
        pointBackgroundColor: BLUE,
        backgroundColor: BLUE,
        borderColor: BLUE
      }]
    },
    options: {
      responsive: false,
      animation: false,
      devicePixelRatio: 1,
      events: [],
      layout: { padding: { top: cfg.top, right: cfg.right, bottom: 0, left: 0 } },
      plugins: {
        legend: { display: false },
        tooltip: { enabled: false },
        frame: { xMinor: cfg.xMinor, yMinor: cfg.yMinor, topWidth: cfg.topWidth }
      },
      scales: { x: axis('x', cfg.x), y: axis('y', cfg.y) }
    },
    plugins: [framePlugin]
  });
}

makePanel('c1', expNormPoints.concat(expNormCore), {
  top: 1, right: 14, topWidth: 3, xMinor: 0.002, yMinor: 0.01,
  x: { range: [3.32624, 3.39729], ticks: exponentTicks, title: exponentTitle, size: 88.3, titlePad: 20.3 },
  y: { range: [2.6765, 2.9139], ticks: normTicks, title: normTitle, size: 91.5 }
});

makePanel('c2', expRatioPoints.concat(expRatioCore), {
  top: 5.7, right: 14, topWidth: 1.5, xMinor: 0.002, yMinor: 0.002,
  x: { range: [3.32624, 3.39729], ticks: exponentTicks, title: exponentTitle, size: 89.3, titlePad: 18.6 },
  y: { range: [0.74053, 0.78036], ticks: ratioTicks, title: ratioTitle, size: 91.5 }
});

makePanel('c3', ratioNormPoints.concat(ratioNormCore), {
  top: 5, right: 22, topWidth: 2.5, xMinor: 0.002, yMinor: 0.01,
  x: { range: [0.74065, 0.78048], ticks: ratioTicks, title: ratioTitle, size: 71, titlePad: 0 },
  y: { range: [2.67616, 2.91395], ticks: normTicks, title: normTitle, size: 91.8 }
});
</script>
</body>
</html>
